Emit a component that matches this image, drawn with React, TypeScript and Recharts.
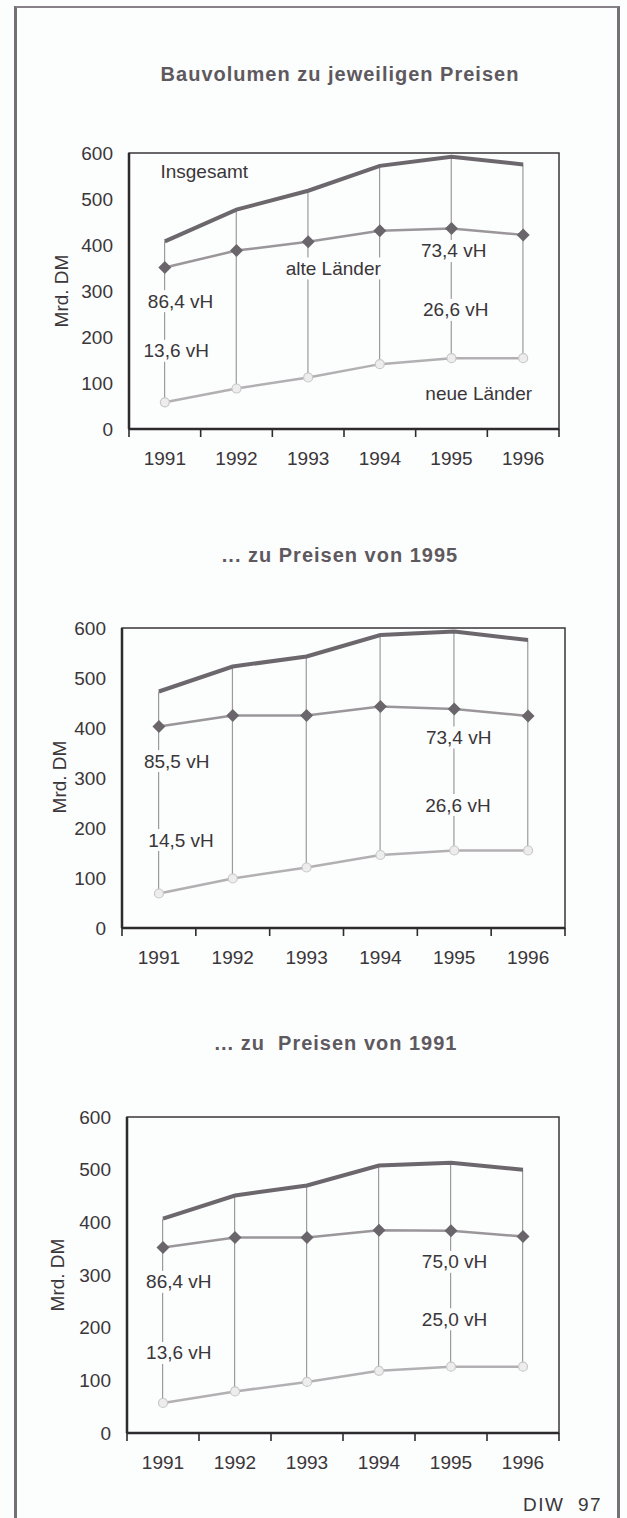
import React from 'react';
import { ComposedChart, Line, Bar, XAxis, YAxis, ReferenceArea, ReferenceDot } from 'recharts';

const YEARS = ['1991', '1992', '1993', '1994', '1995', '1996'];
const Y_TICKS = [0, 100, 200, 300, 400, 500, 600];
const X_TICKS = [0, 0.5, 1, 1.5, 2, 2.5, 3, 3.5, 4, 4.5, 5, 5.5, 6];

// Bauvolumen zu jeweiligen Preisen
const TOTAL_CUR = [408, 477, 518, 572, 592, 575];
const WEST_CUR = [351, 388, 407, 431, 436, 422];
const EAST_CUR = [58, 88, 112, 141, 154, 154];
// ... zu Preisen von 1995
const TOTAL_95 = [473, 523, 543, 586, 593, 576];
const WEST_95 = [403, 425, 425, 443, 438, 424];
const EAST_95 = [69, 99, 121, 146, 155, 155];
// ... zu Preisen von 1991
const TOTAL_91 = [407, 451, 470, 508, 513, 500];
const WEST_91 = [352, 371, 371, 385, 384, 373];
const EAST_91 = [57, 79, 97, 118, 126, 126];

// annotations: [text, x (category units), y value]
const NOTES_CUR: [string, number, number][] = [
  ['Insgesamt', 1.05, 559],
  ['86,4 vH', 0.72, 278],
  ['13,6 vH', 0.66, 170],
  ['alte Länder', 2.85, 349],
  ['73,4 vH', 4.53, 387],
  ['26,6 vH', 4.56, 259],
  ['neue Länder', 4.88, 78],
];
const NOTES_95: [string, number, number][] = [
  ['85,5 vH', 0.74, 334],
  ['14,5 vH', 0.8, 176],
  ['73,4 vH', 4.56, 381],
  ['26,6 vH', 4.55, 246],
];
const NOTES_91: [string, number, number][] = [
  ['86,4 vH', 0.72, 287],
  ['13,6 vH', 0.72, 152],
  ['75,0 vH', 4.55, 325],
  ['25,0 vH', 4.55, 216],
];

const FONT = '"Liberation Sans", Arial, sans-serif';
const TEXT = '#3a3639';

function build(total: number[], west: number[], east: number[]) {
  return YEARS.map((y, i) => ({
    x: i + 0.5,
    year: y,
    total: total[i],
    west: west[i],
    east: east[i],
    range: [east[i], total[i]],
  }));
}

const XTick = (p: any) => {
  const { x, y, payload } = p;
  const v = payload.value;
  if (Math.abs(v - Math.round(v)) < 1e-6) {
    return <line x1={x} x2={x} y1={y} y2={y + 8} stroke="#2e2b2e" strokeWidth={1.6} />;
  }
  return (
    <text x={x} y={y + 29} textAnchor="middle" dominantBaseline="central" fill={TEXT} fontSize={19} fontFamily={FONT}>
      {YEARS[Math.floor(v)]}
    </text>
  );
};

const Diamond = (p: any) => {
  const { cx, cy } = p;
  if (cx == null || cy == null) return null;
  const s = 6.5;
  return <polygon points={`${cx},${cy - s} ${cx + s},${cy} ${cx},${cy + s} ${cx - s},${cy}`} fill="#6a656a" />;
};

const Ring = (p: any) => {
  const { cx, cy } = p;
  if (cx == null || cy == null) return null;
  return <circle cx={cx} cy={cy} r={4.5} fill="#ededed" stroke="#cac8ca" strokeWidth={1.2} />;
};

const Note = (text: string) => (p: any) => {
  const { cx, cy } = p;
  const w = text.length * 9.6 + 6;
  return (
    <g>
      <rect x={cx - w / 2} y={cy - 11} width={w} height={22} fill="#fcfdfd" />
      <text x={cx} y={cy} textAnchor="middle" dominantBaseline="central" fill={TEXT} fontSize={19} fontFamily={FONT}>
        {text}
      </text>
    </g>
  );
};

type PanelProps = {
  top: number;
  height: number;
  plotLeft: number;
  plotRight: number;
  plotTop: number;
  plotBottom: number;
  total: number[];
  west: number[];
  east: number[];
  notes: [string, number, number][];
};

function Panel(props: PanelProps) {
  const { top, height, plotLeft, plotRight, plotTop, plotBottom, total, west, east, notes } = props;
  const data = build(total, west, east);
  const yw = 60;
  const xh = 40;
  return (
    <div style={{ position: 'absolute', left: 0, top, width: 627, height }}>
      <ComposedChart
        width={627}
        height={height}
        data={data}
        margin={{ top: plotTop - top, left: plotLeft - yw, right: 627 - plotRight, bottom: top + height - plotBottom - xh }}
      >
        <XAxis
          dataKey="x"
          type="number"
          domain={[0, 6]}
          ticks={X_TICKS}
          interval={0}
          tickLine={false}
          tickSize={0}
          tickMargin={0}
          height={xh}
          axisLine={{ stroke: '#2e2b2e', strokeWidth: 2.5 }}
          tick={(p: any) => <XTick {...p} />}
        />
        <YAxis
          type="number"
          domain={[0, 600]}
          ticks={Y_TICKS}
          interval={0}
          width={yw}
          tickLine={false}
          tickSize={6}
          tickMargin={10}
          axisLine={{ stroke: '#2e2b2e', strokeWidth: 2.5 }}
          tick={{ fill: TEXT, fontSize: 19, fontFamily: FONT }}
        />
        <ReferenceArea x1={0} x2={6} y1={0} y2={600} fill="none" stroke="#3a363a" strokeWidth={1.5} />
        <Bar dataKey="range" barSize={1.2} fill="#9d9a9d" isAnimationActive={false} />
        <Line
          dataKey="east"
          type="linear"
          stroke="#b3b0b3"
          strokeWidth={2.5}
          dot={(p: any) => <Ring key={'e' + p.index} {...p} />}
          activeDot={false}
          isAnimationActive={false}
        />
        <Line
          dataKey="west"
          type="linear"
          stroke="#9a969a"
          strokeWidth={2.5}
          dot={(p: any) => <Diamond key={'w' + p.index} {...p} />}
          activeDot={false}
          isAnimationActive={false}
        />
        <Line dataKey="total" type="linear" stroke="#6c676c" strokeWidth={4} dot={false} activeDot={false} isAnimationActive={false} />
        {notes.map(([t, x, y], i) => (
          <ReferenceDot key={i} x={x} y={y} r={0} shape={Note(t)} />
        ))}
      </ComposedChart>
    </div>
  );
}

const titleStyle: React.CSSProperties = {
  position: 'absolute',
  left: 0,
  width: 680,
  textAlign: 'center',
  fontFamily: FONT,
  fontWeight: 'bold',
  fontSize: 20,
  letterSpacing: 1,
  color: '#5e595f',
  whiteSpace: 'pre',
  lineHeight: '24px',
};

const ylabStyle = (x: number, y: number): React.CSSProperties => ({
  position: 'absolute',
  left: x,
  top: y,
  transform: 'translate(-50%, -50%) rotate(-90deg)',
  fontFamily: FONT,
  fontSize: 19,
  color: TEXT,
  whiteSpace: 'nowrap',
  lineHeight: '22px',
});

export default function App() {
  return (
    <div style={{ position: 'absolute', left: 0, top: 0, width: 627, height: 1518, overflow: 'hidden', background: '#fcfdfd' }}>
      <div
        style={{
          position: 'absolute',
          left: 14,
          top: 6,
          width: 600,
          height: 1560,
          borderLeft: '3px solid #747075',
          borderRight: '3px solid #747075',
          borderTop: '2px solid #858186',
        }}
      />
      <div style={{ ...titleStyle, top: 74 - 12 }}>Bauvolumen zu jeweiligen Preisen</div>
      <div style={{ ...titleStyle, top: 555 - 12 }}>... zu Preisen von 1995</div>
      <div style={{ ...titleStyle, top: 1043 - 12, width: 672 }}>... zu  Preisen von 1991</div>

      <Panel top={0} height={480} plotLeft={129} plotRight={559} plotTop={153} plotBottom={429}
        total={TOTAL_CUR} west={WEST_CUR} east={EAST_CUR} notes={NOTES_CUR} />
      <Panel top={480} height={520} plotLeft={122} plotRight={565} plotTop={628} plotBottom={928}
        total={TOTAL_95} west={WEST_95} east={EAST_95} notes={NOTES_95} />
      <Panel top={1000} height={518} plotLeft={127} plotRight={559} plotTop={1117} plotBottom={1433}
        total={TOTAL_91} west={WEST_91} east={EAST_91} notes={NOTES_91} />

      <div style={ylabStyle(62, 291)}>Mrd. DM</div>
      <div style={ylabStyle(60, 777)}>Mrd. DM</div>
      <div style={ylabStyle(58, 1275)}>Mrd. DM</div>

      <div style={{ position: 'absolute', left: 523, top: 1505 - 11, fontFamily: FONT, fontSize: 19, color: TEXT, whiteSpace: 'pre', lineHeight: '22px', letterSpacing: 1.5 }}>
        DIW  97
      </div>
    </div>
  );
}
